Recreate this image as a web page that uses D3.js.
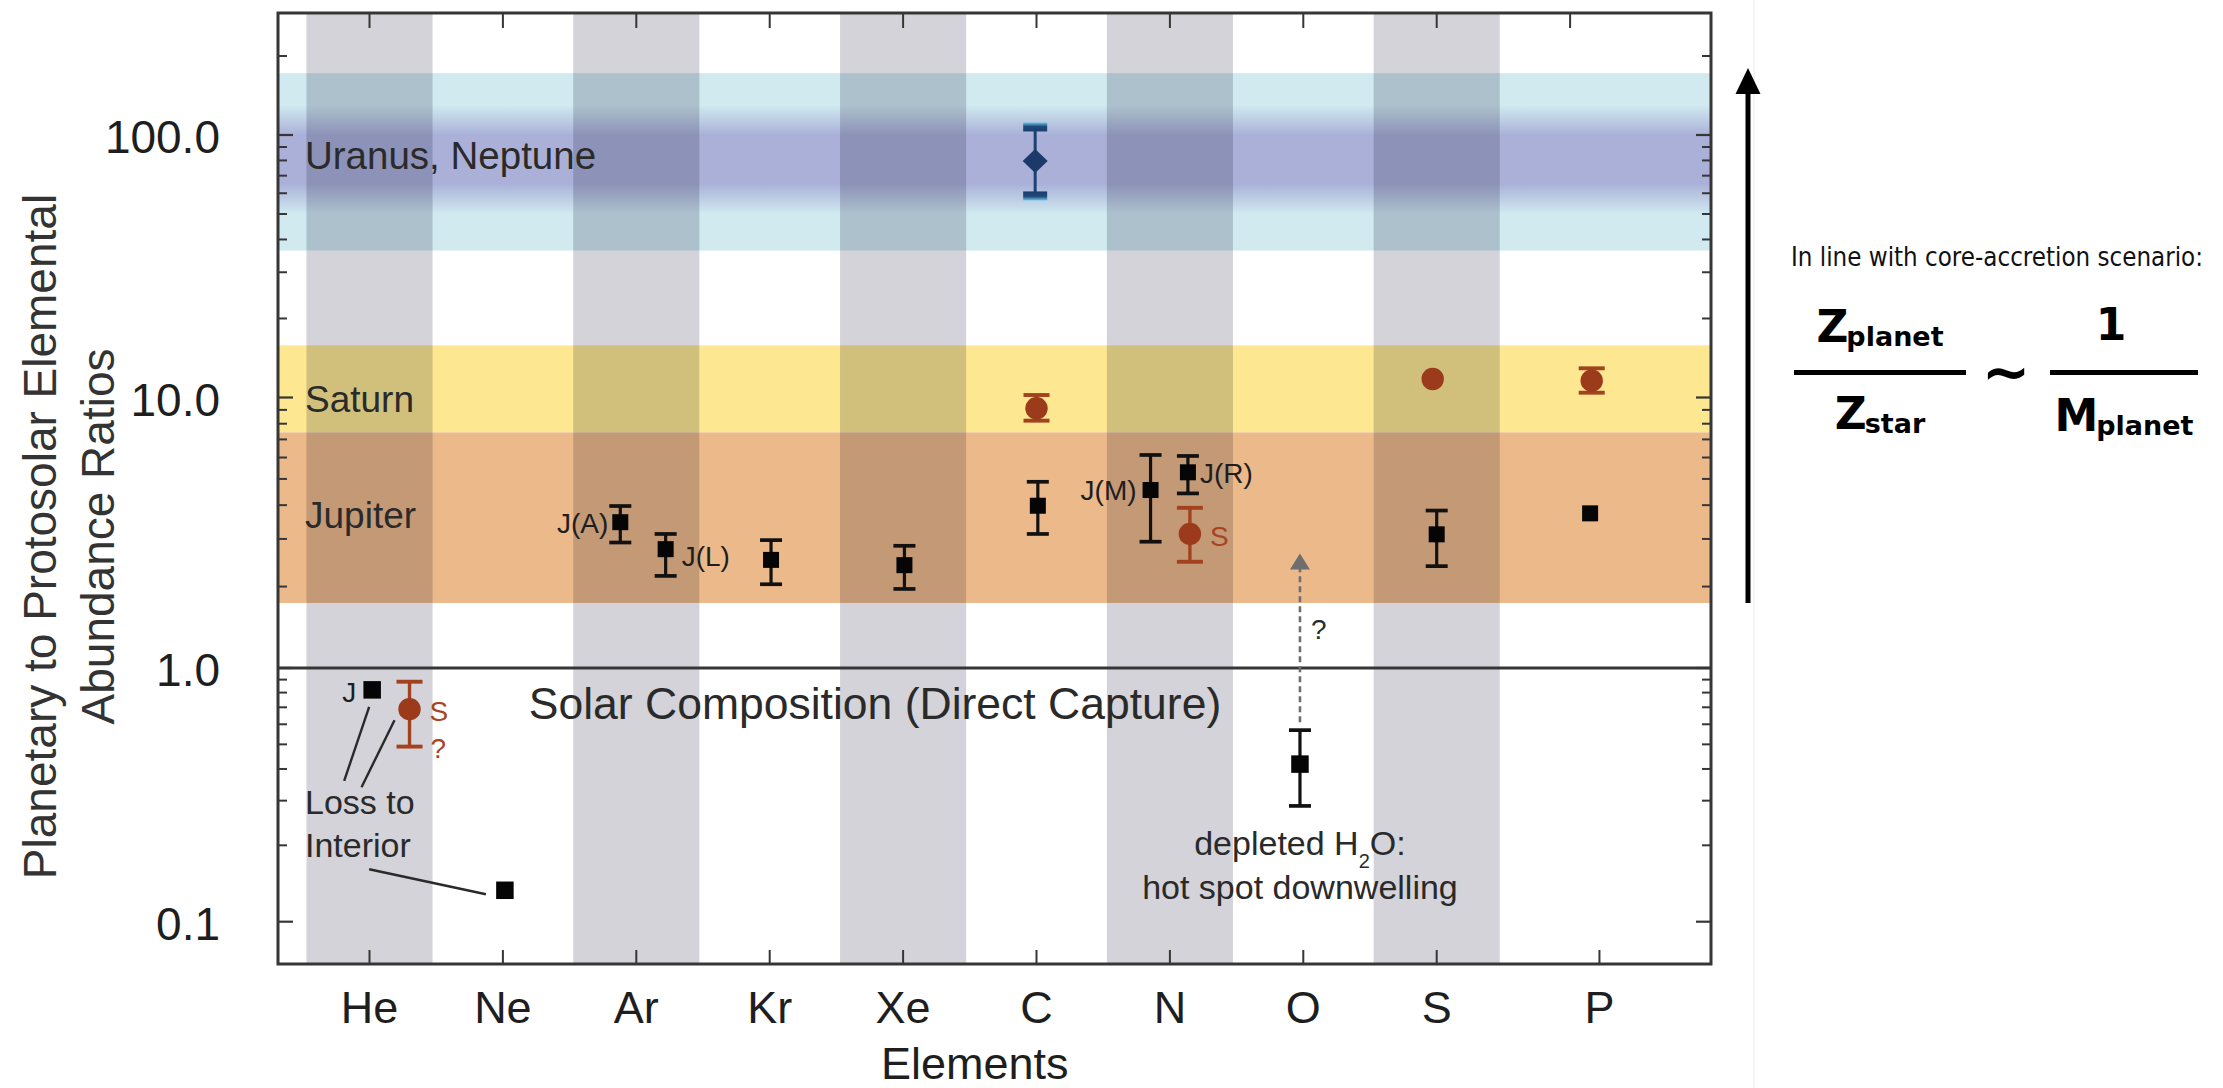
<!DOCTYPE html>
<html>
<head>
<meta charset="utf-8">
<script src="https://cdn.jsdelivr.net/npm/d3@7"></script>
<style>
  html, body { margin: 0; padding: 0; background: #fff; }
  svg { display: block; }
</style>
</head>
<body>
<svg id="chart" width="2223" height="1088"></svg>
<script>
// ---- Elements along the x axis ----
const elements = ["He", "Ne", "Ar", "Kr", "Xe", "C", "N", "O", "S", "P"];
const shadedElements = ["He", "Ar", "Xe", "N", "S"];

// ---- Jupiter: planetary / protosolar abundance ratios ----
const jupiterElement = ["He", "Ne", "Ar", "Ar", "Kr", "Xe", "C", "N", "N", "O", "S", "P"];
const jupiterTag     = ["J", "", "J(A)", "J(L)", "", "", "", "J(M)", "J(R)", "", "", ""];
const jupiterValue   = [0.82, 0.133, 3.46, 2.75, 2.51, 2.40, 3.98, 4.55, 5.29, 0.418, 3.12, 3.73];
const jupiterLow     = [null, null, 2.91, 2.19, 2.04, 1.96, 3.13, 2.93, 4.42, 0.286, 2.38, null];
const jupiterHigh    = [null, null, 3.97, 3.13, 2.97, 2.83, 4.88, 6.13, 6.08, 0.569, 3.82, null];

// ---- Saturn ----
const saturnElement = ["He", "C", "N", "S", "P"];
const saturnTag     = ["S", "", "S", "", ""];
const saturnValue   = [0.688, 9.12, 3.13, 11.76, 11.59];
const saturnLow     = [0.49, 8.21, 2.47, null, 10.43];
const saturnHigh    = [0.883, 10.22, 3.91, null, 12.92];

// ---- Uranus / Neptune ----
const iceElement = ["C"];
const iceValue   = [79.6];
const iceLow     = [58.6];
const iceHigh    = [107.3];

// ---- Enrichment ranges drawn as horizontal bands ----
const bandName = ["Uranus, Neptune", "Saturn", "Jupiter"];
const bandLow  = [36.3, 7.43, 1.74];
const bandHigh = [172, 15.8, 7.43];
const iceCoreRange = [50, 130];

// ---- y axis ----
const yMajorTicks = [0.1, 1, 10, 100];
const yTickLabels = ["0.1", "1.0", "10.0", "100.0"];

// Water depletion arrow points up towards this ratio
const oxygenArrowTarget = 2.65;

// ================= layout =================
const FONT = '"Liberation Sans", Arial, Helvetica, sans-serif';
const plot = { left: 278, right: 1711, top: 13, bottom: 964 };

const svg = d3.select("#chart");

// evenly spaced element columns; P's column is widened to fill the frame
const xEven = d3.scalePoint().domain(elements).range([369.5, 369.5 + 133.4 * 9]);
const step = xEven.step();
const xCol = el => el === "P" ? xEven("S") + 1.22 * step : xEven(el);
const columnWidth = 0.945 * step;

// log axis; the lower decade is drawn slightly compressed
const y = d3.scaleLog()
  .domain([0.1, 1, 10, 100])
  .range([921.7, 668, 397.5, 135]);

// horizontal dodge of individual measurements inside a column (fraction of a step)
const dodge = {
  jupiter: { "He": 0.02, "Ne": 0.015, "Ar|J(A)": -0.12, "Ar|J(L)": 0.22, "Kr": 0.01, "Xe": 0.01,
             "C": 0.01, "N|J(M)": -0.145, "N|J(R)": 0.135, "O": -0.025, "S": 0, "P": -0.07 },
  saturn:  { "He": 0.30, "C": 0, "N": 0.15, "S": -0.03, "P": -0.058 },
  ice:     { "C": -0.01 }
};
const dodgeOf = (planet, el, tag) => {
  const m = dodge[planet];
  const k = tag ? el + "|" + tag : el;
  return (m[k] !== undefined ? m[k] : (m[el] || 0)) * step;
};

// ================= defs =================
const defs = svg.append("defs");
defs.append("clipPath").attr("id", "plotClip")
  .append("rect")
  .attr("x", plot.left).attr("y", plot.top)
  .attr("width", plot.right - plot.left).attr("height", plot.bottom - plot.top);

const coreGrad = defs.append("linearGradient").attr("id", "iceCore")
  .attr("x1", 0).attr("y1", 0).attr("x2", 0).attr("y2", 1);
[[0, 0], [0.28, 1], [0.72, 1], [1, 0]].forEach(([o, a]) =>
  coreGrad.append("stop").attr("offset", o).attr("stop-color", "#aab0d8").attr("stop-opacity", a));

const capTop = defs.append("linearGradient").attr("id", "capTop")
  .attr("x1", 0).attr("y1", 0).attr("x2", 0).attr("y2", 1);
capTop.append("stop").attr("offset", 0).attr("stop-color", "#6cc4e4");
capTop.append("stop").attr("offset", 0.45).attr("stop-color", "#1f4a7c");
capTop.append("stop").attr("offset", 1).attr("stop-color", "#1b3d6c");
const capBot = defs.append("linearGradient").attr("id", "capBot")
  .attr("x1", 0).attr("y1", 0).attr("x2", 0).attr("y2", 1);
capBot.append("stop").attr("offset", 0).attr("stop-color", "#1b3d6c");
capBot.append("stop").attr("offset", 0.55).attr("stop-color", "#1f4a7c");
capBot.append("stop").attr("offset", 1).attr("stop-color", "#6cc4e4");

// ================= background =================
const gPlot = svg.append("g").attr("clip-path", "url(#plotClip)");

const bandColor = ["#d0eaf0", "#fde891", "#ecb98b"];
gPlot.append("g").selectAll("rect").data(bandName).join("rect")
  .attr("x", plot.left).attr("width", plot.right - plot.left)
  .attr("y", (d, i) => y(bandHigh[i]))
  .attr("height", (d, i) => y(bandLow[i]) - y(bandHigh[i]))
  .attr("fill", (d, i) => bandColor[i]);

gPlot.append("rect")
  .attr("x", plot.left).attr("width", plot.right - plot.left)
  .attr("y", y(iceCoreRange[1]))
  .attr("height", y(iceCoreRange[0]) - y(iceCoreRange[1]))
  .attr("fill", "url(#iceCore)");

// alternate element columns shaded grey
gPlot.append("g").selectAll("rect").data(shadedElements).join("rect")
  .attr("x", d => xEven(d) - columnWidth / 2)
  .attr("width", columnWidth)
  .attr("y", plot.top).attr("height", plot.bottom - plot.top)
  .attr("fill", "#d3d3d9")
  .style("mix-blend-mode", "multiply");

// ================= axes frame & ticks =================
const axisColor = "#363636";
const gAxes = svg.append("g").attr("stroke", axisColor).attr("fill", "none");

// minor ticks at 2..9 of each decade inside the frame
const yMinorTicks = [];
[0.1, 1, 10, 100].forEach(d => d3.range(2, 10).forEach(k => {
  const v = d * k;
  if (y(v) > plot.top + 2 && y(v) < plot.bottom - 2) yMinorTicks.push(v);
}));

[[plot.left, 1], [plot.right, -1]].forEach(([x0, dir]) => {
  gAxes.selectAll(null).data(yMajorTicks).join("line")
    .attr("x1", x0).attr("x2", x0 + dir * 15)
    .attr("y1", d => y(d)).attr("y2", d => y(d))
    .attr("stroke-width", 2.2);
  gAxes.selectAll(null).data(yMinorTicks).join("line")
    .attr("x1", x0).attr("x2", x0 + dir * 9)
    .attr("y1", d => y(d)).attr("y2", d => y(d))
    .attr("stroke-width", 2);
});

// top ticks follow the even grid, bottom ticks follow the columns
gAxes.selectAll(null).data(elements).join("line")
  .attr("x1", d => xEven(d)).attr("x2", d => xEven(d))
  .attr("y1", plot.top).attr("y2", plot.top + 15).attr("stroke-width", 2);
gAxes.selectAll(null).data(elements).join("line")
  .attr("x1", d => xCol(d)).attr("x2", d => xCol(d))
  .attr("y1", plot.bottom).attr("y2", plot.bottom - 14).attr("stroke-width", 2);

// solar composition reference line
gAxes.append("line")
  .attr("x1", plot.left).attr("x2", plot.right)
  .attr("y1", y(1)).attr("y2", y(1)).attr("stroke-width", 3);

gAxes.append("rect")
  .attr("x", plot.left).attr("y", plot.top)
  .attr("width", plot.right - plot.left).attr("height", plot.bottom - plot.top)
  .attr("stroke-width", 3);

// ================= axis labels =================
const gText = svg.append("g").attr("font-family", FONT).attr("fill", "#1e1e1e");

gText.selectAll(null).data(yMajorTicks).join("text")
  .attr("x", plot.left - 58).attr("y", d => y(d)).attr("dy", "0.4em")
  .attr("text-anchor", "end").attr("font-size", 46)
  .text((d, i) => yTickLabels[i]);

gText.selectAll(null).data(elements).join("text")
  .attr("x", d => xCol(d)).attr("y", plot.bottom + 59)
  .attr("text-anchor", "middle").attr("font-size", 45)
  .text(d => d);

gText.append("text")
  .attr("x", (xEven.range()[0] + xEven.range()[1]) / 2 + 5).attr("y", plot.bottom + 115)
  .attr("text-anchor", "middle").attr("font-size", 45)
  .text("Elements");

const yTitleMid = (plot.top + plot.bottom) / 2 + 48;
[["Planetary to Protosolar Elemental", 56], ["Abundance Ratios", 114]].forEach(([t, bx]) => {
  gText.append("text")
    .attr("transform", `translate(${bx},${yTitleMid}) rotate(-90)`)
    .attr("text-anchor", "middle").attr("font-size", 46).attr("fill", "#333")
    .text(t);
});

// band names
const bandLabelAt = [84, 9.9, 3.7];
const bandLabelSize = [38.5, 37, 37];
gText.selectAll(null).data(bandName).join("text")
  .attr("x", plot.left + 27).attr("y", (d, i) => y(bandLabelAt[i])).attr("dy", "0.36em")
  .attr("font-size", (d, i) => bandLabelSize[i]).attr("fill", "#2a2a2a")
  .text(d => d);

gText.append("text")
  .attr("x", 875).attr("y", y(1) + 51)
  .attr("text-anchor", "middle").attr("font-size", 44.5).attr("fill", "#2a2a2a")
  .text("Solar Composition (Direct Capture)");

// ================= measurements =================
const gMarks = svg.append("g");

function errorBar(g, x, lo, hi, capW, color, width) {
  if (lo == null || hi == null) return;
  g.append("line").attr("x1", x).attr("x2", x).attr("y1", y(hi)).attr("y2", y(lo))
    .attr("stroke", color).attr("stroke-width", width);
  [hi, lo].forEach(v => g.append("line")
    .attr("x1", x - capW / 2).attr("x2", x + capW / 2)
    .attr("y1", y(v)).attr("y2", y(v))
    .attr("stroke", color).attr("stroke-width", width + 0.5));
}

// Jupiter: black squares
const jupiterRows = jupiterElement.map((el, i) => ({
  el, tag: jupiterTag[i], v: jupiterValue[i], lo: jupiterLow[i], hi: jupiterHigh[i],
  x: xCol(el) + dodgeOf("jupiter", el, jupiterTag[i])
}));
jupiterRows.forEach(d => errorBar(gMarks, d.x, d.lo, d.hi, 22, "#111", 3.2));
const sq = d => (d.el === "He" || d.el === "Ne" || d.el === "O") ? 17.5 : 16;
gMarks.selectAll(null).data(jupiterRows).join("rect")
  .attr("x", d => d.x - sq(d) / 2).attr("y", d => y(d.v) - sq(d) / 2)
  .attr("width", sq).attr("height", sq)
  .attr("fill", "#050505");

// Saturn: rust circles
const rust = "#9c3a1c";
const saturnRows = saturnElement.map((el, i) => ({
  el, tag: saturnTag[i], v: saturnValue[i], lo: saturnLow[i], hi: saturnHigh[i],
  x: xCol(el) + dodgeOf("saturn", el, saturnTag[i])
}));
saturnRows.forEach(d => errorBar(gMarks, d.x, d.lo, d.hi, 26, "#a3421f", 3.4));
gMarks.selectAll(null).data(saturnRows).join("circle")
  .attr("cx", d => d.x).attr("cy", d => y(d.v)).attr("r", 11.2)
  .attr("fill", rust);

// Uranus / Neptune: navy diamond with shaded caps
iceElement.forEach((el, i) => {
  const x = xCol(el) + dodgeOf("ice", el);
  gMarks.append("line").attr("x1", x).attr("x2", x)
    .attr("y1", y(iceHigh[i])).attr("y2", y(iceLow[i]))
    .attr("stroke", "#1d4272").attr("stroke-width", 3);
  gMarks.append("rect").attr("x", x - 12).attr("width", 24)
    .attr("y", y(iceHigh[i]) - 4.5).attr("height", 9).attr("fill", "url(#capTop)");
  gMarks.append("rect").attr("x", x - 12).attr("width", 24)
    .attr("y", y(iceLow[i]) - 4.5).attr("height", 9).attr("fill", "url(#capBot)");
  const cy = y(iceValue[i]);
  gMarks.append("path")
    .attr("d", `M${x},${cy - 12}L${x + 12.5},${cy}L${x},${cy + 12}L${x - 12.5},${cy}Z`)
    .attr("fill", "#1b3a6a");
});

// point tags
const tagPlace = {
  "jupiter|J":    { anchor: "end",   dx: -16, dy: 12 },
  "jupiter|J(A)": { anchor: "end",   dx: -12, dy: 11 },
  "jupiter|J(L)": { anchor: "start", dx: 16,  dy: 17 },
  "jupiter|J(M)": { anchor: "end",   dx: -14, dy: 10 },
  "jupiter|J(R)": { anchor: "start", dx: 12,  dy: 11 },
  "saturn|S":     { anchor: "start", dx: 20,  dy: 12 }
};
const gTags = svg.append("g").attr("font-family", FONT).attr("font-size", 28);
jupiterRows.concat(saturnRows.map(d => Object.assign({ planet: "saturn" }, d)))
  .filter(d => d.tag)
  .forEach(d => {
    const planet = d.planet || "jupiter";
    const p = tagPlace[planet + "|" + d.tag];
    gTags.append("text")
      .attr("x", d.x + p.dx).attr("y", y(d.v) + p.dy)
      .attr("text-anchor", p.anchor)
      .attr("fill", planet === "saturn" ? "#a8451f" : "#1e1e1e")
      .text(d.tag);
  });
// uncertain saturn helium
const heSat = saturnRows.find(d => d.el === "He");
gTags.append("text").attr("x", heSat.x + 21).attr("y", y(heSat.v) + 49)
  .attr("fill", "#a8451f").text("?");

// ================= annotations =================
const gNote = svg.append("g").attr("font-family", FONT).attr("fill", "#2a2a2a");
const heJup = jupiterRows.find(d => d.el === "He");
const neJup = jupiterRows.find(d => d.el === "Ne");
const leader = [
  [heJup.x - 3, y(heJup.v) + 17, heJup.x - 28, y(heJup.v) + 91],
  [heSat.x - 15, y(heSat.v) + 11, heSat.x - 48, y(heSat.v) + 78],
  [heJup.x - 3, y(neJup.v) - 21, neJup.x - 19, y(neJup.v) + 4]
];
gNote.selectAll("line").data(leader).join("line")
  .attr("x1", d => d[0]).attr("y1", d => d[1]).attr("x2", d => d[2]).attr("y2", d => d[3])
  .attr("stroke", "#2a2a2a").attr("stroke-width", 2.4);
gNote.append("text").attr("x", plot.left + 27).attr("y", y(0.265)).attr("font-size", 34).text("Loss to");
gNote.append("text").attr("x", plot.left + 27).attr("y", y(0.18)).attr("font-size", 34).text("Interior");

// oxygen: depleted water, possible upward revision
const oJup = jupiterRows.find(d => d.el === "O");
const tipY = y(oxygenArrowTarget);
gNote.append("line")
  .attr("x1", oJup.x).attr("x2", oJup.x)
  .attr("y1", y(oJup.hi) - 8).attr("y2", tipY + 14)
  .attr("stroke", "#6e6e6e").attr("stroke-width", 2.6).attr("stroke-dasharray", "6,4");
gNote.append("path")
  .attr("d", `M${oJup.x},${tipY}L${oJup.x + 10},${tipY + 16}L${oJup.x - 10},${tipY + 16}Z`)
  .attr("fill", "#6e6e6e");
gNote.append("text").attr("x", oJup.x + 11).attr("y", y(1.28)).attr("font-size", 28).text("?");

const water = gNote.append("text").attr("x", oJup.x).attr("y", y(oJup.lo) + 49)
  .attr("text-anchor", "middle").attr("font-size", 34);
water.append("tspan").text("depleted H");
water.append("tspan").attr("font-size", 20).attr("dy", 13).text("2");
water.append("tspan").attr("dy", -13).text("O:");
gNote.append("text").attr("x", oJup.x).attr("y", y(oJup.lo) + 93)
  .attr("text-anchor", "middle").attr("font-size", 34).text("hot spot downwelling");

// ================= core-accretion side note =================
const side = svg.append("g");
side.append("line").attr("x1", 1754).attr("x2", 1754).attr("y1", 0).attr("y2", 1088)
  .attr("stroke", "#f0f0f0").attr("stroke-width", 1.5);

const arrowX = 1748;
side.append("line").attr("x1", arrowX).attr("x2", arrowX)
  .attr("y1", y(bandLow[2])).attr("y2", 90)
  .attr("stroke", "#000").attr("stroke-width", 5);
side.append("path")
  .attr("d", `M${arrowX},68L${arrowX + 12.5},94L${arrowX - 12.5},94Z`)
  .attr("fill", "#000");

const FORM = '"DejaVu Sans", "Liberation Sans", sans-serif';
side.append("text")
  .attr("x", 1791).attr("y", 265.5)
  .attr("font-family", '"DejaVu Sans Condensed", "DejaVu Sans", sans-serif')
  .attr("font-size", 26).attr("fill", "#111")
  .attr("textLength", 412).attr("lengthAdjust", "spacingAndGlyphs")
  .text("In line with core-accretion scenario:");

const fracBarY = 372.5;
[[1794, 1966], [2050, 2198]].forEach(([a, b]) =>
  side.append("line").attr("x1", a).attr("x2", b).attr("y1", fracBarY).attr("y2", fracBarY)
    .attr("stroke", "#000").attr("stroke-width", 5));

function subText(cx, baseline, main, sub) {
  const t = side.append("text").attr("x", cx).attr("y", baseline)
    .attr("text-anchor", "middle").attr("font-family", FORM).attr("font-weight", "bold")
    .attr("fill", "#000").attr("font-size", 44);
  t.append("tspan").text(main);
  t.append("tspan").attr("font-size", 27).attr("dy", 4).attr("dx", -2).text(sub);
}
subText(1880, 342, "Z", "planet");
subText(1880, 429, "Z", "star");
subText(2124, 431, "M", "planet");
side.append("text").attr("x", 2111).attr("y", 340).attr("text-anchor", "middle")
  .attr("font-family", FORM).attr("font-weight", "bold").attr("font-size", 44).text("1");
side.append("text").attr("x", 2006).attr("y", 392).attr("text-anchor", "middle")
  .attr("font-family", FORM).attr("font-weight", "bold").attr("font-size", 58).text("~");
</script>
</body>
</html>
